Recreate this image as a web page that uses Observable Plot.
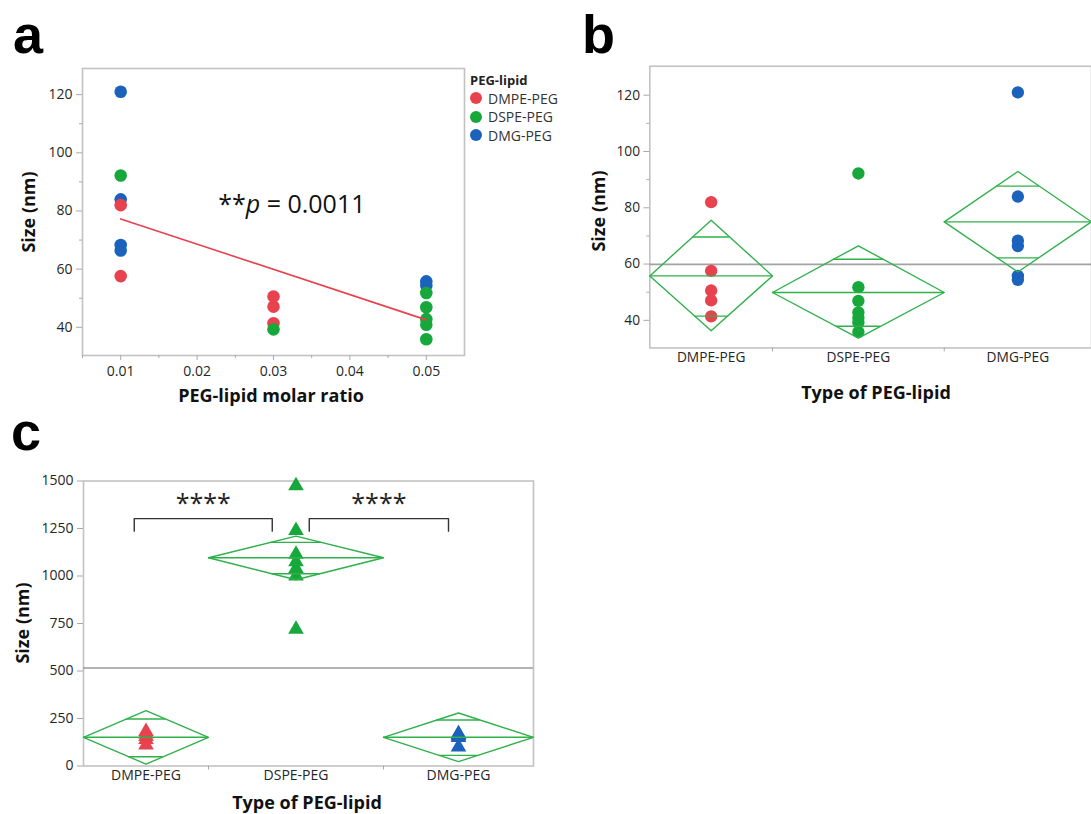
<!DOCTYPE html>
<html>
<head>
<meta charset="utf-8">
<script src="https://cdn.jsdelivr.net/npm/d3@7"></script>
<script src="https://cdn.jsdelivr.net/npm/@observablehq/plot@0.6"></script>
<style>
  body { margin: 0; width: 1091px; height: 814px; overflow: hidden; background: #fff; position: relative; font-family: "Open Sans", sans-serif; }
  .abs { position: absolute; }
  .letter { font-family: "Liberation Sans", Arial, sans-serif; font-weight: bold; font-size: 54px; line-height: 54px; color: #000; }
  .title { font-family: "Open Sans", sans-serif; font-weight: bold; font-size: 18px; color: #111; white-space: nowrap; line-height: 1; }
  .legend { font-family: "Open Sans", sans-serif; font-size: 14px; color: #333; }
  .legend .head { font-weight: bold; font-size: 13px; color: #222; }
  .legend .item { display: flex; align-items: center; height: 18.5px; }
  .legend .sw { width: 12px; height: 12px; border-radius: 50%; margin-right: 6px; }
</style>
</head>
<body>
<div class="abs letter" style="left:13px; top:7px">a</div>
<div class="abs letter" style="left:582px; top:7px">b</div>
<div class="abs letter" style="left:11px; top:404px">c</div>

<div id="pa" class="abs" style="left:0; top:0"></div>
<div id="legend" class="abs legend" style="left:470px; top:71px"></div>
<div id="pb" class="abs" style="left:560px; top:0; width:531px; height:410px; overflow:hidden"></div>
<div id="pc" class="abs" style="left:0; top:410px"></div>

<div class="abs title" style="left:28px; top:211.5px; transform:translate(-50%,-50%) rotate(-90deg)">Size (nm)</div>
<div class="abs title" style="left:271px; top:394.5px; transform:translate(-50%,-50%)">PEG-lipid molar ratio</div>
<div class="abs title" style="left:598px; top:210.5px; transform:translate(-50%,-50%) rotate(-90deg)">Size (nm)</div>
<div class="abs title" style="left:876px; top:391.5px; transform:translate(-50%,-50%)">Type of PEG-lipid</div>
<div class="abs title" style="left:22px; top:623px; transform:translate(-50%,-50%) rotate(-90deg)">Size (nm)</div>
<div class="abs title" style="left:307px; top:802px; transform:translate(-50%,-50%)">Type of PEG-lipid</div>

<script>
// ---------------- data ----------------
const groups = ["DMPE-PEG", "DSPE-PEG", "DMG-PEG"];
const groupColors = ["#e8424f", "#17a83b", "#1b62bd"];
const groupCounts = [5, 7, 6];
const drawOrder = ["DMG-PEG", "DMPE-PEG", "DSPE-PEG"];

// panels a & b : size (nm) per formulation
const dmpeRatio = [0.01, 0.01, 0.03, 0.03, 0.03];
const dmpeSize  = [82.0, 57.6, 50.6, 47.1, 41.4];
const dspeRatio = [0.01, 0.03, 0.05, 0.05, 0.05, 0.05, 0.05];
const dspeSize  = [92.2, 39.3, 51.8, 46.9, 42.8, 40.9, 35.9];
const dmgRatio  = [0.01, 0.01, 0.01, 0.01, 0.05, 0.05];
const dmgSize   = [121.0, 84.0, 68.3, 66.4, 55.8, 54.4];

const ratioTicks = [0.01, 0.02, 0.03, 0.04, 0.05];
const ratioMinorTicks = [0.005, 0.015, 0.025, 0.035, 0.045];
const sizeTicks = [40, 60, 80, 100, 120];
const sizeMinorTicks = [50, 70, 90, 110];
const pAnnot = {ratio: 0.0324, size: 82, prefix: "**", italic: "p", suffix: " = 0.0011"};

// panel b : means diamonds (mean, 95% CI, overlap marks) and grand mean
const bMean      = [55.8, 49.9, 75.0];
const bUpper     = [75.6, 66.5, 92.9];
const bLower     = [36.3, 33.7, 57.2];
const bMarkUpper = [69.6, 61.7, 87.7];
const bMarkLower = [41.5, 37.9, 62.2];
const bGrandMean = 59.9;

// panel c : size (nm) of large particles
const dmpeLarge = [182, 168, 155, 140, 110];
const dspeLarge = [1475, 1240, 1114, 1075, 1040, 1000, 720];
const dmgLarge  = [170, 166, 162, 158, 150, 100];
const largeTicks = [0, 250, 500, 750, 1000, 1250, 1500];
const cMean      = [151, 1096, 151];
const cUpper     = [291, 1210, 279];
const cLower     = [10, 980, 23];
const cMarkUpper = [247, 1177, 242];
const cMarkLower = [49, 1012, 56];
const cGrandMean = 516;
const bracketFrom = [2.03, 9.03];
const bracketTo   = [7.55, 14.6];
const bracketTop  = 1302;
const bracketFoot = 1236;
const bracketLabels = ["****", "****"];
const bracketLabelSize = 1380;

// ---------------- derived tables ----------------
const ratios = [dmpeRatio, dspeRatio, dmgRatio];
const sizes = [dmpeSize, dspeSize, dmgSize];
const larges = [dmpeLarge, dspeLarge, dmgLarge];
const starts = groupCounts.map((n, i) => d3.sum(groupCounts.slice(0, i)));
const ends = starts.map((s, i) => s + groupCounts[i]);
const centers = starts.map((s, i) => (s + ends[i]) / 2);
const totalN = d3.sum(groupCounts);

const rows = groups.flatMap((g, i) => sizes[i].map((v, j) => ({group: g, gi: i, ratio: ratios[i][j], size: v, pos: centers[i]})))
  .sort((a, b) => drawOrder.indexOf(a.group) - drawOrder.indexOf(b.group));
const rowsC = groups.flatMap((g, i) => larges[i].map(v => ({group: g, gi: i, size: v, pos: centers[i]})));

function diamondTables(mean, upper, lower, mu, ml) {
  const outline = groups.flatMap((g, i) => [
    {g, x: starts[i], y: mean[i]}, {g, x: centers[i], y: upper[i]},
    {g, x: ends[i], y: mean[i]}, {g, x: centers[i], y: lower[i]},
    {g, x: starts[i], y: mean[i]}
  ]);
  const means = groups.map((g, i) => ({g, y: mean[i], x1: starts[i], x2: ends[i]}));
  const marks = groups.flatMap((g, i) => {
    const half = (ends[i] - starts[i]) / 2;
    return [[mu[i], upper[i]], [ml[i], lower[i]]].map(([m, edge]) => {
      const f = 1 - (m - mean[i]) / (edge - mean[i]);
      return {g, y: m, x1: centers[i] - f * half, x2: centers[i] + f * half};
    });
  });
  return {outline, means, marks};
}

const color = {domain: groups, range: groupColors};
const frameStroke = "#c2c2c2";
const tickStroke = "#a8a8a8";
const diamondGreen = "#2fb04b";
const baseStyle = {fontFamily: "'Open Sans', sans-serif", fontSize: "14px", color: "#262626", background: "transparent", overflow: "visible"};

// ---------------- panel a ----------------
const plotA = Plot.plot({
  width: 470, height: 410,
  marginLeft: 82, marginRight: 6, marginTop: 68, marginBottom: 55,
  style: baseStyle,
  x: {domain: [0.005, 0.055]},
  y: {domain: [30.3, 129]},
  color,
  marks: [
    Plot.frame({stroke: frameStroke, strokeWidth: 1.6}),
    Plot.axisY({ticks: sizeTicks, tickSize: 6, tickPadding: 4, stroke: tickStroke, label: null}),
    Plot.axisY({ticks: sizeMinorTicks, tickSize: 3, tickFormat: () => "", stroke: tickStroke, label: null}),
    Plot.axisX({ticks: ratioTicks, tickSize: 5, tickPadding: 6, tickFormat: d3.format(".2f"), stroke: tickStroke, label: null}),
    Plot.axisX({ticks: ratioMinorTicks, tickSize: 3, tickFormat: () => "", stroke: tickStroke, label: null}),
    Plot.dot(rows, {x: "ratio", y: "size", fill: "group", r: 6.3}),
    Plot.linearRegressionY(rows, {x: "ratio", y: "size", stroke: groupColors[0], strokeWidth: 1.6, ci: 0}),
    Plot.text([pAnnot], {x: "ratio", y: "size", text: d => d.prefix + d.italic + d.suffix, fontSize: 25, fill: "#111", fontFamily: "'Open Sans', sans-serif"})
  ]
});
document.getElementById("pa").appendChild(plotA);
plotA.querySelectorAll("text").forEach(t => {
  if (t.textContent === pAnnot.prefix + pAnnot.italic + pAnnot.suffix) {
    t.innerHTML = pAnnot.prefix + '<tspan font-style="italic">' + pAnnot.italic + '</tspan>' + pAnnot.suffix;
  }
});

// legend
const legend = document.getElementById("legend");
legend.innerHTML = '<div class="head" style="height:18px;line-height:18px">PEG-lipid</div>' +
  groups.map((g, i) => `<div class="item"><span class="sw" style="background:${groupColors[i]}"></span>${g}</div>`).join("");

// ---------------- panel b ----------------
const dB = diamondTables(bMean, bUpper, bLower, bMarkUpper, bMarkLower);
const plotB = Plot.plot({
  width: 541, height: 410,
  marginLeft: 91, marginRight: 0, marginTop: 67, marginBottom: 56,
  style: baseStyle,
  x: {domain: [0, totalN]},
  y: {domain: [30.2, 130.3]},
  color,
  marks: [
    Plot.frame({stroke: frameStroke, strokeWidth: 1.6}),
    Plot.axisY({ticks: sizeTicks, tickSize: 6, tickPadding: 4, stroke: tickStroke, label: null}),
    Plot.axisY({ticks: sizeMinorTicks, tickSize: 3, tickFormat: () => "", stroke: tickStroke, label: null}),
    Plot.axisX({ticks: ends.slice(0, -1), tickSize: 4, tickFormat: () => "", stroke: tickStroke, label: null}),
    Plot.axisX({ticks: centers, tickSize: 0, tickPadding: 4, tickFormat: d => groups[centers.indexOf(d)], label: null}),
    Plot.ruleY([bGrandMean], {stroke: "#a2a2a2", strokeWidth: 1.6}),
    Plot.dot(rows, {x: "pos", y: "size", fill: "group", r: 6.3}),
    Plot.line(dB.outline, {x: "x", y: "y", z: "g", stroke: diamondGreen, strokeWidth: 1.4}),
    Plot.ruleY(dB.means, {y: "y", x1: "x1", x2: "x2", stroke: diamondGreen, strokeWidth: 1.4}),
    Plot.ruleY(dB.marks, {y: "y", x1: "x1", x2: "x2", stroke: diamondGreen, strokeWidth: 1.4})
  ]
});
document.getElementById("pb").appendChild(plotB);

// ---------------- panel c ----------------
const dC = diamondTables(cMean, cUpper, cLower, cMarkUpper, cMarkLower);
const bracketPath = bracketFrom.flatMap((s, i) => [
  {k: i, x: s, y: bracketFoot}, {k: i, x: s, y: bracketTop},
  {k: i, x: bracketTo[i], y: bracketTop}, {k: i, x: bracketTo[i], y: bracketFoot}
]);
const bracketText = bracketFrom.map((s, i) => ({x: (s + bracketTo[i]) / 2, y: bracketLabelSize, t: bracketLabels[i]}));
const plotC = Plot.plot({
  width: 540, height: 404,
  marginLeft: 83, marginRight: 7, marginTop: 70.5, marginBottom: 48.5,
  style: baseStyle,
  x: {domain: [0, totalN]},
  y: {domain: [0, 1500]},
  color,
  marks: [
    Plot.frame({stroke: frameStroke, strokeWidth: 1.6}),
    Plot.axisY({ticks: largeTicks, tickSize: 6, tickPadding: 4, tickFormat: d3.format("d"), stroke: tickStroke, label: null}),
    Plot.axisX({ticks: ends.slice(0, -1), tickSize: 4, tickFormat: () => "", stroke: tickStroke, label: null}),
    Plot.axisX({ticks: centers, tickSize: 0, tickPadding: 4, tickFormat: d => groups[centers.indexOf(d)], label: null}),
    Plot.ruleY([cGrandMean], {stroke: "#9a9a9a", strokeWidth: 1.6}),
    Plot.dot(rowsC, {x: "pos", y: "size", fill: "group", symbol: "triangle", r: 5.8}),
    Plot.line(dC.outline, {x: "x", y: "y", z: "g", stroke: diamondGreen, strokeWidth: 1.4}),
    Plot.ruleY(dC.means, {y: "y", x1: "x1", x2: "x2", stroke: diamondGreen, strokeWidth: 1.4}),
    Plot.ruleY(dC.marks, {y: "y", x1: "x1", x2: "x2", stroke: diamondGreen, strokeWidth: 1.4}),
    Plot.line(bracketPath, {x: "x", y: "y", z: "k", stroke: "#333", strokeWidth: 1.4}),
    Plot.text(bracketText, {x: "x", y: "y", text: "t", fontSize: 25, fill: "#222", fontFamily: "'Open Sans', sans-serif"})
  ]
});
document.getElementById("pc").appendChild(plotC);
</script>
</body>
</html>
